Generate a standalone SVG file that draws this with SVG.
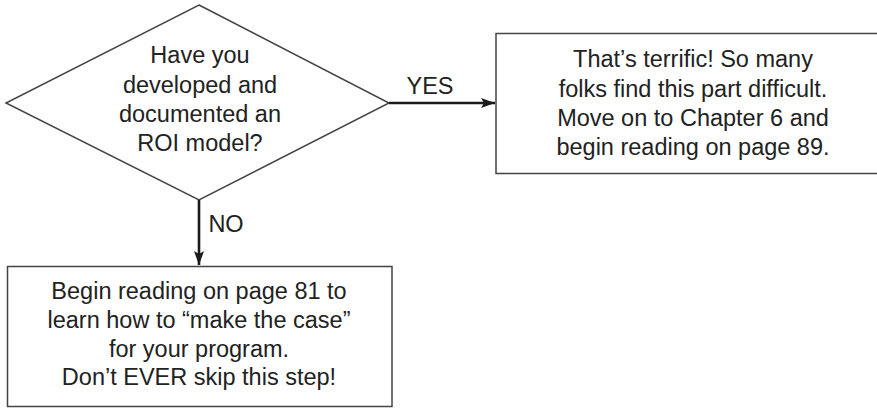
<svg xmlns="http://www.w3.org/2000/svg" width="877" height="408" viewBox="0 0 877 408">
<style>
.shape{fill:#fff;stroke:#444;stroke-width:1.5}
.conn{stroke:#1a1a1a;stroke-width:2.6;fill:none}
text{font-family:"Liberation Sans",Arial,sans-serif;font-size:23.5px;fill:#222;text-anchor:middle}
</style>
<defs>
<marker id="arr" viewBox="0 0 14 10" refX="14" refY="5" markerWidth="14" markerHeight="10" markerUnits="userSpaceOnUse" orient="auto">
<path d="M0,0 L14,5 L0,10 L3,5 Z" fill="#1a1a1a"/>
</marker>
</defs>
<rect width="877" height="408" fill="#fff"/>
<g id="decision">
<polygon class="shape" points="199,5 389,103 199,200 6,103"/>
<text x="200" y="63">Have you</text>
<text x="200" y="93">developed and</text>
<text x="200" y="122">documented an</text>
<text x="200" y="151">ROI model?</text>
</g>
<g id="yes-box">
<rect class="shape" x="496" y="33.5" width="400" height="140"/>
<text x="693" y="67">That’s terrific! So many</text>
<text x="693" y="97">folks find this part difficult.</text>
<text x="693" y="126">Move on to Chapter 6 and</text>
<text x="693" y="155">begin reading on page 89.</text>
</g>
<g id="no-box">
<rect class="shape" x="7.5" y="266.5" width="384.5" height="140"/>
<text x="199" y="299">Begin reading on page 81 to</text>
<text x="199" y="328">learn how to “make the case”</text>
<text x="199" y="357">for your program.</text>
<text x="199" y="385">Don’t EVER skip this step!</text>
</g>
<g id="connectors">
<line class="conn" x1="389" y1="103" x2="495" y2="103" marker-end="url(#arr)"/>
<line class="conn" x1="199" y1="200" x2="199" y2="265" marker-end="url(#arr)"/>
<text x="430" y="94">YES</text>
<text x="226" y="232">NO</text>
</g>
</svg>
